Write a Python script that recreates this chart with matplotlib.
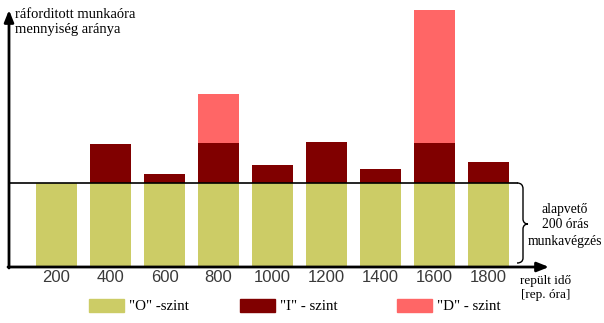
import numpy as np
import matplotlib
matplotlib.use('Agg')
import matplotlib.pyplot as plt
from matplotlib.patches import Rectangle, PathPatch
from matplotlib.path import Path

# flight hours and work-hour ratio per level (basic "O" level = 1)
hours = ['200', '400', '600', '800', '1000', '1200', '1400', '1600', '1800']
o_level = [1, 1, 1, 1, 1, 1, 1, 1, 1]
i_level = [0, 0.46, 0.11, 0.48, 0.21, 0.49, 0.17, 0.48, 0.25]
d_level = [0, 0, 0, 0.58, 0, 0, 0, 1.58, 0]
level_names = ['"O" -szint', '"I" - szint', '"D" - szint']
level_colors = ['#cccc66', '#800000', '#ff6666']

W, H = 604, 323
fig = plt.figure(figsize=(W / 100, H / 100), dpi=100)
ax = fig.add_axes([0, 0, 1, 1])

# one x unit per bar slot (54 px), one y unit = basic workload (84 px)
x0_px, step_px, base_px, unit_px = 56.5, 54.0, 267.0, 84.0
ax.set_xlim(-x0_px / step_px, (W - x0_px) / step_px)
ax.set_ylim(-(H - base_px) / unit_px, base_px / unit_px)
ax.axis('off')


def px(x, y):
    # pixel position (from top-left) -> data coordinates
    return (x - x0_px) / step_px, (base_px - y) / unit_px


serif = 'Liberation Serif'
sans = 'Liberation Sans'

x = np.arange(len(hours))
o = np.array(o_level)
i = np.array(i_level)
d = np.array(d_level)
bw = 41 / step_px
ax.bar(x, o, width=bw, color=level_colors[0], zorder=2)
ax.bar(x, i, width=bw, bottom=o, color=level_colors[1], zorder=2)
ax.bar(x, d, width=bw, bottom=o + i, color=level_colors[2], zorder=2)

# baseline of the basic 200-hour work
xl, _ = px(9, 0)
xr, _ = px(517, 0)
ax.plot([xl, xr], [1, 1], color='black', lw=1.2, zorder=3)

# axes with arrow heads
arrow = dict(arrowstyle='-|>,head_length=0.7,head_width=0.28', lw=2,
             color='black', shrinkA=0, shrinkB=0)
ax.annotate('', xy=px(9, 10), xytext=px(9, 268), arrowprops=arrow, zorder=4)
ax.annotate('', xy=px(549, 267), xytext=px(8, 267), arrowprops=arrow, zorder=4)

# tick labels
for xi, lab in zip(x, hours):
    ax.text(xi, px(0, 278)[1], lab, ha='center', va='center', fontsize=12,
            family=sans, color='#3a3a3a')

# curly brace spanning the basic level
pts = [(517, 183), (521, 183), (523, 185), (523, 189),
       (523, 219),
       (523, 222), (525, 224), (528, 224),
       (525, 224), (523, 226), (523, 229),
       (523, 258),
       (523, 261), (521, 263), (517, 263)]
codes = [Path.MOVETO, Path.CURVE4, Path.CURVE4, Path.CURVE4,
         Path.LINETO,
         Path.CURVE4, Path.CURVE4, Path.CURVE4,
         Path.CURVE4, Path.CURVE4, Path.CURVE4,
         Path.LINETO,
         Path.CURVE4, Path.CURVE4, Path.CURVE4]
brace = Path([px(a, b) for a, b in pts], codes)
ax.add_patch(PathPatch(brace, fill=False, lw=1.0, color='black'))

ax.text(*px(565, 225), 'alapvető\n200 órás\nmunkavégzés', ha='center',
        va='center', fontsize=9.8, family=serif, linespacing=1.3)
ax.text(*px(546, 288), 'repült idő\n[rep. óra]', ha='center', va='center',
        fontsize=9.5, family=serif, linespacing=1.3)
ax.text(*px(15, 22), 'ráforditott munkaóra\nmennyiség aránya', ha='left',
        va='center', fontsize=10.5, family=serif, linespacing=1.2)

# legend
legend_px = [89, 240, 397]
for lx, name, col in zip(legend_px, level_names, level_colors):
    ax.add_patch(Rectangle(px(lx, 312), 35 / step_px, 13 / unit_px,
                           color=col, zorder=2))
    ax.text(*px(lx + 40, 306), name, ha='left', va='center', fontsize=10.8,
            family=serif)

fig.savefig('out.png', dpi=100)
